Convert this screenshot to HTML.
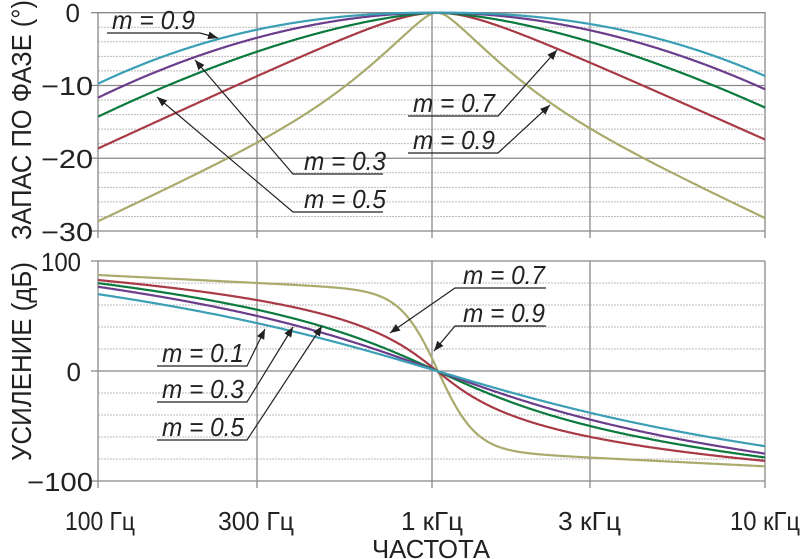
<!DOCTYPE html>
<html><head><meta charset="utf-8"><style>
html,body{margin:0;padding:0;background:#fff;}
svg{display:block;font-family:"Liberation Sans",sans-serif;}
.t{font-size:26px;fill:#222;}
.m{font-size:26px;font-style:italic;fill:#222;}
</style></head><body>
<svg id="s" width="800" height="559" viewBox="0 0 800 559" xmlns="http://www.w3.org/2000/svg">
<defs><marker id="a" viewBox="0 0 10 10" refX="10" refY="5" markerWidth="10" markerHeight="10" orient="auto" markerUnits="userSpaceOnUse"><path d="M0,1 L10,5 L0,9 z" fill="#222"/></marker></defs>
<g id="grid"></g>
<g id="curves" fill="none" stroke-width="2.2"></g>
<g stroke="#222" stroke-width="1.2" fill="none">
<polyline points="107,33 200,33 218,38" marker-end="url(#a)"/>
<polyline points="383,174 293,174 195,60" marker-end="url(#a)"/>
<polyline points="383,212 293,212 157,97" marker-end="url(#a)"/>
<polyline points="408,116 498,116 557,50" marker-end="url(#a)"/>
<polyline points="408,153 498,153 550,105" marker-end="url(#a)"/>
<polyline points="546,288 455,288 390,333" marker-end="url(#a)"/>
<polyline points="546,326 455,326 434,351" marker-end="url(#a)"/>
<polyline points="157,366 247,366 265,329" marker-end="url(#a)"/>
<polyline points="157,402 247,402 293,327" marker-end="url(#a)"/>
<polyline points="157,440 247,440 322,326" marker-end="url(#a)"/>
</g>
<g class="m">
<text x="112" y="29" textLength="83" lengthAdjust="spacingAndGlyphs">m = 0.9</text>
<text x="304" y="170" textLength="82" lengthAdjust="spacingAndGlyphs">m = 0.3</text>
<text x="304" y="208" textLength="82" lengthAdjust="spacingAndGlyphs">m = 0.5</text>
<text x="413" y="112" textLength="82" lengthAdjust="spacingAndGlyphs">m = 0.7</text>
<text x="413" y="149" textLength="82" lengthAdjust="spacingAndGlyphs">m = 0.9</text>
<text x="463" y="284" textLength="82" lengthAdjust="spacingAndGlyphs">m = 0.7</text>
<text x="463" y="322" textLength="82" lengthAdjust="spacingAndGlyphs">m = 0.9</text>
<text x="162" y="362" textLength="82" lengthAdjust="spacingAndGlyphs">m = 0.1</text>
<text x="162" y="398" textLength="82" lengthAdjust="spacingAndGlyphs">m = 0.3</text>
<text x="162" y="436" textLength="82" lengthAdjust="spacingAndGlyphs">m = 0.5</text>
</g>
<g class="t" text-anchor="end">
<text x="80" y="22">0</text>
<text x="93" y="95" textLength="52" lengthAdjust="spacingAndGlyphs">−10</text>
<text x="93" y="168" textLength="52" lengthAdjust="spacingAndGlyphs">−20</text>
<text x="93" y="241" textLength="52" lengthAdjust="spacingAndGlyphs">−30</text>
<text x="81" y="271" textLength="40" lengthAdjust="spacingAndGlyphs">100</text>
<text x="81" y="381">0</text>
<text x="93" y="491" textLength="66" lengthAdjust="spacingAndGlyphs">−100</text>
</g>
<g class="t">
<text x="65" y="530" textLength="70" lengthAdjust="spacingAndGlyphs">100 Гц</text>
<text x="218" y="530" textLength="76" lengthAdjust="spacingAndGlyphs">300 Гц</text>
<text x="401" y="530" textLength="62" lengthAdjust="spacingAndGlyphs">1 кГц</text>
<text x="558" y="530" textLength="63" lengthAdjust="spacingAndGlyphs">3 кГц</text>
<text x="730" y="530" textLength="70" lengthAdjust="spacingAndGlyphs">10 кГц</text>
<text x="372" y="558" textLength="118" lengthAdjust="spacingAndGlyphs">ЧАСТОТА</text>
<text transform="translate(31,240) rotate(-90)" textLength="240" lengthAdjust="spacingAndGlyphs" font-size="28">ЗАПАС ПО ФАЗЕ (°)</text>
<text transform="translate(31,461) rotate(-90)" textLength="199" lengthAdjust="spacingAndGlyphs" font-size="28">УСИЛЕНИЕ (дБ)</text>
</g>
</svg>
<script>
var NS="http://www.w3.org/2000/svg";
function el(p,t,a){var e=document.createElementNS(NS,t);for(var k in a)e.setAttribute(k,a[k]);p.appendChild(e);return e;}
var g=document.getElementById('grid');
for(var i=0;i<=15;i++){var y=12.7+i*218.3/15;var maj=i%5==0;
 el(g,'line',{x1:98,x2:765,y1:y,y2:y,stroke:maj?'#888':'#bbb','stroke-width':maj?1.3:1,'stroke-dasharray':maj?'':'2,1'});
 if(maj)el(g,'line',{x1:91,x2:98,y1:y,y2:y,stroke:'#888','stroke-width':1.3});}
for(var i=0;i<=10;i++){var y=261+i*22;var maj=i%5==0;
 el(g,'line',{x1:98,x2:765,y1:y,y2:y,stroke:maj?'#888':'#bbb','stroke-width':maj?1.3:1,'stroke-dasharray':maj?'':'2,1'});
 if(maj)el(g,'line',{x1:91,x2:98,y1:y,y2:y,stroke:'#888','stroke-width':1.3});}
[98,257,432,590,765].forEach(function(x){
 el(g,'line',{x1:x,x2:x,y1:12,y2:238,stroke:'#888','stroke-width':1.3});
 el(g,'line',{x1:x,x2:x,y1:261,y2:488,stroke:'#888','stroke-width':1.3});});
var cols={c:'#3a9fb5',p:'#6b3d8c',g:'#0b7a3e',r:'#a83a45',o:'#a9aa6c'};
function asinh(x){return Math.log(x+Math.sqrt(x*x+1));}
var phase={
 c:function(d){return 71*Math.pow(d/339,2.26);},
 p:function(d){return 85*Math.pow(d/339,1.93);},
 g:function(d){return 104*Math.pow(d/339,1.55);},
 r:function(d){return 23.2*(Math.sqrt(1+(d/50)*(d/50))-1);},
 o:function(d){var e=12;var s=Math.sqrt(d*d+e*e)-e;return 0.47*s+55*Math.tanh(s/105);}
};
var rf={c:0.96,p:0.96,g:0.96,r:0.97,o:1.01};
var gain={
 c:function(d){return 59.2*asinh(d/200);},
 p:function(d){return 54.2*asinh(d/150);},
 g:function(d){return 45.4*asinh(d/100);},
 r:function(d){return 32.1*asinh(d/40);},
 o:function(d){return 0.05*d+79*Math.tanh(d/38);}
};
var cg=document.getElementById('curves');
['o','r','g','p','c'].forEach(function(k){
 var s='';for(var x=98;x<=765;x+=1){var C=437;var d=Math.abs(x-C);var v=phase[k](d);if(x>C)v*=rf[k];var y=12.7+v;s+=(s?'L':'M')+x+','+y.toFixed(1);}
 el(cg,'path',{d:s,stroke:cols[k]});});
['o','r','g','p','c'].forEach(function(k){
 var s='';var C=(k=='o')?438:437;for(var x=98;x<=765;x+=1){var d=Math.abs(x-C);var v=gain[k](d);var y=x<C?371-v:371+v;s+=(s?'L':'M')+x+','+y.toFixed(1);}
 el(cg,'path',{d:s,stroke:cols[k]});});
</script>
</body></html>
